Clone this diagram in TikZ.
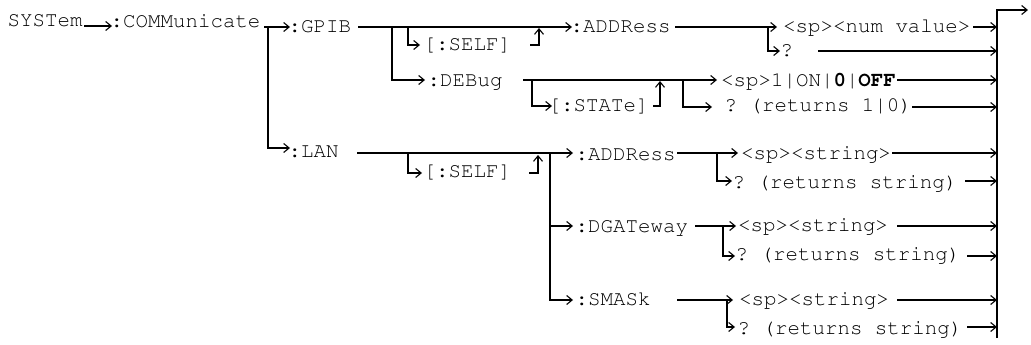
\documentclass[tikz,border=0pt]{standalone}
\usepackage[T1,TU]{fontenc}
\usetikzlibrary{arrows.meta}
\frenchspacing
\newcommand\cour{\fontencoding{T1}\fontfamily{pcr}\fontseries{m}\fontshape{n}\fontsize{20.8}{24}\selectfont\frenchspacing}
\tikzset{
  lbl/.style={anchor=base west, inner sep=0pt, font=\cour},
  rail/.style={line width=1.1pt, line cap=butt},
  arr/.style={rail, -{Straight Barb[length=5.5pt,width=9pt]}},
}
\begin{document}
\begin{tikzpicture}[x=1pt,y=-1pt]
\path[fill=white,use as bounding box] (0,0) rectangle (1031,345);

% ---- texts ----
\node[lbl] (sys)   at (7.5,27)    {SYSTem};
\node[lbl] (comm)  at (110.5,27.5){:COMMunicate};
\node[lbl] (gpib)  at (288.5,33)  {:GPIB};
\node[lbl] (lan)   at (288.5,157) {:LAN};
\node[lbl] (gself) at (423.5,51)  {[:SELF]};
\node[lbl] (debug) at (427.5,86)  {:DEBug};
\node[lbl] (state) at (548.5,111) {[:STATe]};
\node[lbl] (gaddr) at (570.5,33)  {:ADDRess};
\node[lbl] (num)   at (783,32.5)  {<sp><num value>};
\node[lbl] (gq)    at (780.5,57)  {?};
\node[lbl] (onoff) at (721,86)    {<sp>1|ON|\textbf{0}|\textbf{OFF}};
\node[lbl] (dq)    at (724.5,111) {? (returns 1|0)};
\node[lbl] (lself) at (423.5,177) {[:SELF]};
\node[lbl] (laddr) at (575.5,160) {:ADDRess};
\node[lbl] (s1)    at (741,159.5) {<sp><string>};
\node[lbl] (q1)    at (732.5,188) {? (returns string)};
\node[lbl] (dgw)   at (575.5,232) {:DGATeway};
\node[lbl] (s2)    at (738,231)   {<sp><string>};
\node[lbl] (q2)    at (735.5,260) {? (returns string)};
\node[lbl] (smask) at (575.5,305) {:SMASk};
\node[lbl] (s3)    at (739,305)   {<sp><string>};
\node[lbl] (q3)    at (737.5,334) {? (returns string)};

% ---- junction coordinates ----
\coordinate (jc)  at (268,27);
\coordinate (jg1) at (392,27);
\coordinate (jg2) at (408,27);
\coordinate (ja1) at (768,27);
\coordinate (jd1) at (532,80);
\coordinate (jd2) at (683,80);
\coordinate (jl1) at (408,153);
\coordinate (jl2) at (550,153);
\coordinate (jla) at (717,153);
\coordinate (jdg) at (723,226);
\coordinate (jsm) at (727,300);
\coordinate (bartop) at (997,10);
\coordinate (barbot) at (997,338);
\coordinate (exit) at (1028,10);

% ---- connectors ----
\draw[arr] (84,26) -- (112,26);
\draw[arr] (264,27) -- (290,27);
\draw[arr] (jc) |- (290,148);

% GPIB
\draw[arr] (358,27) -- (572,27);
\draw[arr] (jg2) |- (420,45);
\draw[arr] (530,45) -| (539,28);
\draw[arr] (jg1) |- (425,80);
\draw[arr] (675,27) -- (777,27);
\draw[arr] (973,27) -- (997,27);
\draw[arr] (ja1) |- (780,51);
\draw[arr] (818,51) -- (997,51);

% DEBug
\draw[arr] (523,80) -- (717,80);
\draw[arr] (jd1) |- (552,106);
\draw[arr] (653,106) -| (660,81);
\draw[arr] (jd2) |- (712,107);
\draw[arr] (897,80) -- (997,80);
\draw[arr] (912,107) -- (997,107);

% LAN
\draw[arr] (357,153) -- (573,153);
\draw[arr] (jl1) |- (422,173);
\draw[arr] (529,173) -| (538,155);
\draw[arr] (jl2) |- (573,300);
\draw[arr] (550,226) -- (573,226);

\draw[arr] (677,153) -- (738,153);
\draw[arr] (892,153) -- (997,153);
\draw[arr] (jla) |- (732,181);
\draw[arr] (965,181) -- (997,181);

\draw[arr] (695,226) -- (736,226);
\draw[arr] (jdg) |- (735,256);
\draw[arr] (897,226) -- (997,226);
\draw[arr] (967,256) -- (997,256);

\draw[arr] (677,300) -- (733,300);
\draw[arr] (jsm) |- (735,327);
\draw[arr] (897,300) -- (997,300);
\draw[arr] (967,327) -- (997,327);

% exit bar
\draw[arr] (barbot) -- (bartop) -- (exit);
\end{tikzpicture}
\end{document}
